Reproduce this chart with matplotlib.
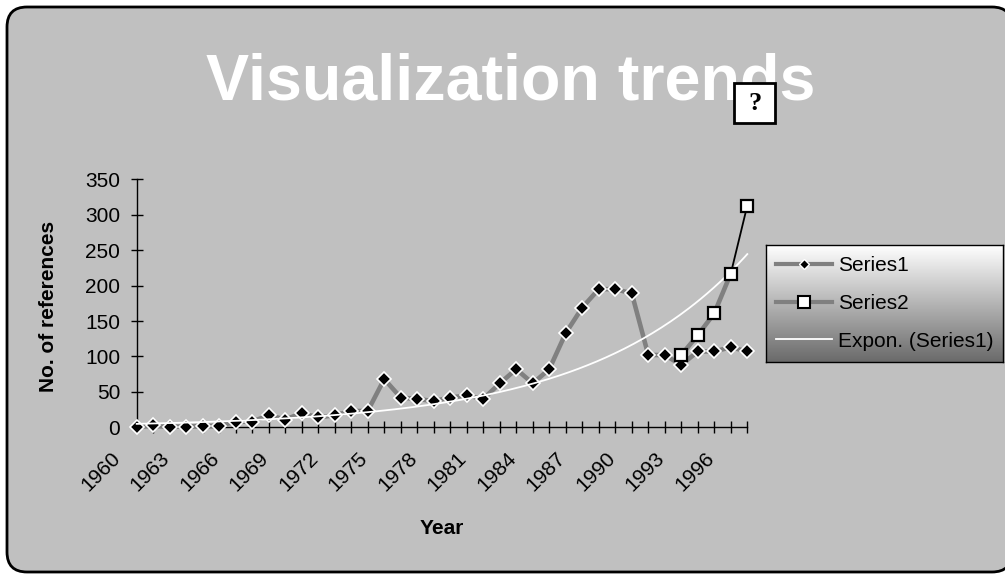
import numpy as np
import matplotlib
matplotlib.use("Agg")
from matplotlib import pyplot as plt
from matplotlib.colors import LinearSegmentedColormap
from matplotlib.lines import Line2D
from matplotlib.patches import FancyBboxPatch, Rectangle
from matplotlib.transforms import ScaledTranslation

plt.rcParams["font.family"] = ["Liberation Sans", "DejaVu Sans"]

# Number of references per year
YEARS = list(range(1960, 1998))
SERIES1 = [
    1, 3, 1, 1, 2, 2, 8, 8, 17, 11,
    20, 14, 17, 23, 23, 68, 42, 40, 37, 42,
    45, 40, 62, 82, 62, 82, 133, 169, 195, 195,
    189, 102, 102, 88, 107, 107, 113, 107,
]
SERIES2_YEARS = [1993, 1994, 1995, 1996, 1997]
SERIES2 = [102, 130, 161, 217, 313]
# exponential trendline of Series1, read at a few years
TREND_YEARS = [1960, 1970, 1975, 1984, 1990, 1997]
TREND = [5, 14, 22, 63, 119, 244]
TICK_LABELS = [str(y) if (y - 1960) % 3 == 0 else "" for y in YEARS]

GREY = "#808080"
BG = "#C0C0C0"
FS = 15

W, H = 1005, 574
fig = plt.figure(figsize=(W / 100, H / 100), dpi=100, facecolor="white")

# background panel in pixel coordinates
bg = fig.add_axes([0, 0, 1, 1])
bg.set_xlim(0, W)
bg.set_ylim(H, 0)
bg.axis("off")
bg.add_patch(FancyBboxPatch((7, 7), 1005, 565,
                            boxstyle="round,pad=0,rounding_size=20",
                            facecolor=BG, edgecolor="black", linewidth=2))
bg.text(511, 100, "Visualization trends", color="white", fontsize=46.5,
        fontweight="bold", ha="center", va="baseline")
bg.add_patch(Rectangle((734, 83), 41, 40, facecolor="white",
                       edgecolor="black", linewidth=2, zorder=5))
bg.text(754.5, 104, "?", family=["Liberation Serif", "DejaVu Serif"],
        fontsize=19, fontweight="bold", ha="center", va="center", zorder=6)

# main chart
ax = fig.add_axes([136.7 / W, 1 - 427.3 / H, 610.6 / W, 248 / H])
ax.set_facecolor("none")
years = np.array(YEARS)

ax.plot(years, SERIES1, color=GREY, lw=3.3, marker="D", ms=7, mfc="black",
        mec="white", mew=1.2, clip_on=False, zorder=3)

ax.plot(SERIES2_YEARS[:-1], SERIES2[:-1], color=GREY, lw=3.3, zorder=4,
        clip_on=False)
ax.plot(SERIES2_YEARS[-2:], SERIES2[-2:], color="black", lw=1.3, zorder=4,
        clip_on=False)
ax.plot(SERIES2_YEARS, SERIES2, ls="none", marker="s", ms=8.3, mfc="white",
        mec="black", mew=1.6, zorder=5, clip_on=False)

# smooth exponential curve through the trend readings
b, ln_a = np.polyfit(np.array(TREND_YEARS) - 1960, np.log(TREND), 1)
tx = np.linspace(years[0], years[-1], 200)
ax.plot(tx, np.exp(ln_a + b * (tx - 1960)), color="white", lw=1.3,
        zorder=3.5, clip_on=False)

ax.set_xlim(1960, 1997)
ax.set_ylim(0, 350)
ax.set_yticks(range(0, 351, 50))
ax.set_xticks(YEARS, labels=TICK_LABELS)
for side in ("top", "right"):
    ax.spines[side].set_visible(False)
for side in ("left", "bottom"):
    ax.spines[side].set_color("black")
    ax.spines[side].set_linewidth(1)
ax.tick_params(axis="both", direction="inout", length=8.6, width=1,
               colors="black", labelsize=FS)
ax.tick_params(axis="y", pad=7.5)
ax.tick_params(axis="x", pad=11)
shift = ScaledTranslation(-13 / 100, 0, fig.dpi_scale_trans)
for lbl in ax.get_xticklabels():
    lbl.set_rotation(45)
    lbl.set_ha("right")
    lbl.set_va("top")
    lbl.set_transform(lbl.get_transform() + shift)

ax.set_xlabel("Year", fontsize=FS, fontweight="bold")
ax.xaxis.label.set_va("center")
ax.xaxis.set_label_coords(0.5, -(529 - 427.3) / 248)
ax.set_ylabel("No. of references", fontsize=FS, fontweight="bold")
ax.yaxis.label.set_va("center")
ax.yaxis.set_label_coords((49 - 136.7) / 610.6, (427.3 - 306) / 248)

# legend box with vertical gradient
lax = fig.add_axes([765.7 / W, 1 - 361.7 / H, 237.6 / W, 116.7 / H])
grad = LinearSegmentedColormap.from_list("leg", ["#ffffff", "#6a6a6a"])
lax.imshow(np.linspace(0, 1, 256).reshape(-1, 1), cmap=grad, aspect="auto",
           extent=[0, 1, 0, 1])
lax.set_xticks([])
lax.set_yticks([])
for sp in lax.spines.values():
    sp.set_color("black")
    sp.set_linewidth(1)

handles = [
    Line2D([], [], color=GREY, lw=3, marker="D", ms=5, mfc="black",
           mec="white", mew=1),
    Line2D([], [], color=GREY, lw=3, marker="s", ms=8, mfc="white",
           mec="black", mew=1.5),
    Line2D([], [], color="white", lw=1.3),
]
lax.legend(handles, ["Series1", "Series2", "Expon. (Series1)"],
           loc="center left", frameon=False, fontsize=FS, borderpad=0,
           borderaxespad=0.5, handlelength=2.7, handletextpad=0.25,
           labelspacing=0.9)

fig.savefig("out.png", dpi=100, facecolor="white")
